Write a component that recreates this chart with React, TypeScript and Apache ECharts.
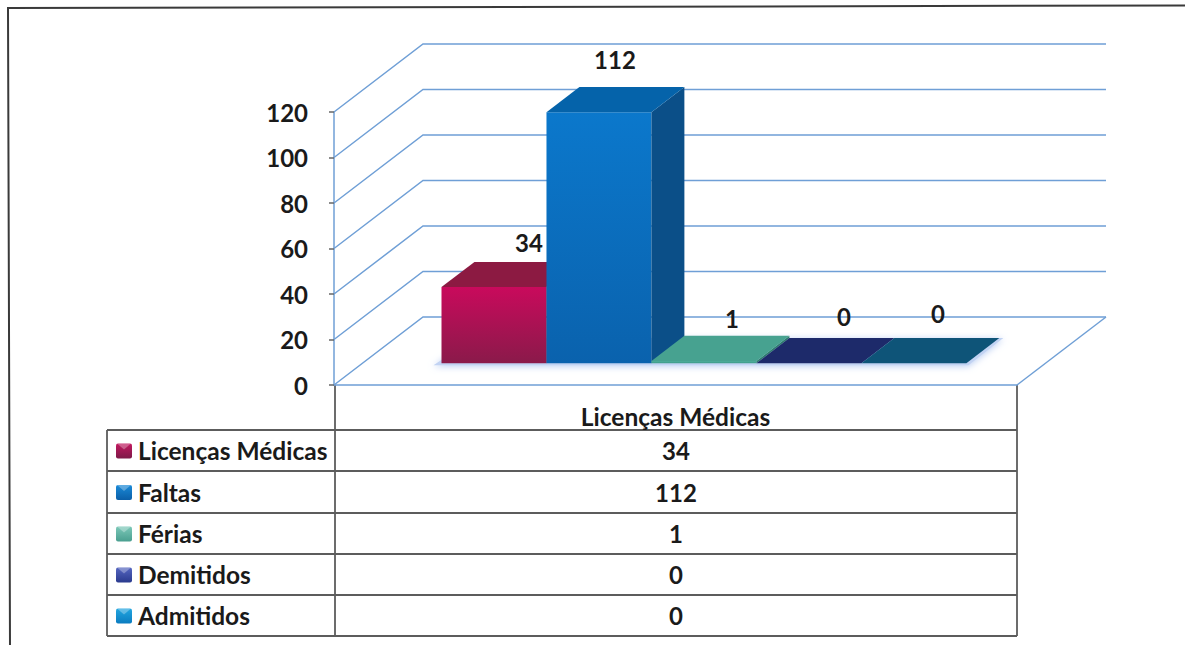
import React, { useEffect, useRef } from "react";
import * as echarts from "echarts";

const categories = ["Licenças Médicas"];
const seriesNames = ["Licenças Médicas", "Faltas", "Férias", "Demitidos", "Admitidos"];
const seriesValues = [34, 112, 1, 0, 0];
const yTicks = [0, 20, 40, 60, 80, 100, 120];

// styling (per series): front top, front bottom, side, top, legend colours
const frontTop = ["#c90a5c", "#0b78cc", "#4fae9b", "#26357e", "#0e6a92"];
const frontBottom = ["#8a1a4a", "#0a62ad", "#3d9a88", "#1c2a6b", "#0d5578"];
const sideFace = ["#6f1438", "#0b4f88", "#2f7d6e", "#151f52", "#0a4460"];
const topFace = ["#8c1a42", "#0563aa", "#47a290", "#1d2a6a", "#0e5478"];
const legendTop = ["#c2185f", "#1a8ad8", "#7cc8b8", "#5566c0", "#22a6e0"];
const legendBottom = ["#7d1a48", "#0b5fa8", "#4a9f90", "#2a3a8e", "#0b7cc0"];
const labelNudgeX = [35, 16, 28, 35, 24];
const labelNudgeY = [-45, -53, -42, -47, -50];

const FONT = "Lato, sans-serif";
const BLUE = "#6f9fd6";
const GRID_LEFT = 334;
const GRID_TOP = 112;
const GRID_W = 683;
const GRID_H = 273;
const DEPTH_X = 89;
const DEPTH_Y = 68;
const BAR_START = 0.1157; // band fraction
const BAR_WIDTH = 0.1537; // band fraction
const BAR_BASE = 0.32; // depth fraction of front face
const BAR_DEPTH = 0.37; // depth fraction of bar
const HEIGHT_SCALE = 0.985;

const TABLE_X0 = 107;
const TABLE_X1 = 335;
const TABLE_X2 = 1017;
const ROW_Y = [430, 471, 513, 554, 595, 636];
const LINE = "#5c5c5c";

function barItem(index: number) {
  return (params: any, api: any) => {
    const v = api.value(1);
    const [cx, y0] = api.coord([0, 0]);
    const [, yv] = api.coord([0, v]);
    const band = api.size([1, 0])[0];
    const left = cx - band / 2 + band * (BAR_START + BAR_WIDTH * index);
    const w = band * BAR_WIDTH;
    const bx = left + DEPTH_X * BAR_BASE;
    const by = y0 - DEPTH_Y * BAR_BASE;
    const h = (y0 - yv) * HEIGHT_SCALE;
    const dx = DEPTH_X * BAR_DEPTH;
    const dy = DEPTH_Y * BAR_DEPTH;
    const top = by - h;
    const children: any[] = [];
    if (h > 0) {
      children.push({
        type: "rect",
        shape: { x: bx, y: top, width: w, height: h },
        style: {
          fill: new echarts.graphic.LinearGradient(0, 0, 0, 1, [
            { offset: 0, color: frontTop[index] },
            { offset: 1, color: frontBottom[index] },
          ]),
        },
      });
      children.push({
        type: "polygon",
        shape: { points: [[bx + w, top], [bx + w + dx, top - dy], [bx + w + dx, by - dy], [bx + w, by]] },
        style: { fill: sideFace[index] },
      });
    }
    children.push({
      type: "polygon",
      shape: { points: [[bx, top], [bx + dx, top - dy], [bx + w + dx, top - dy], [bx + w, top]] },
      style: { fill: topFace[index] },
    });
    children.push({
      type: "text",
      z2: 10,
      style: {
        x: bx + w / 2 + labelNudgeX[index],
        y: top + labelNudgeY[index],
        text: String(seriesValues[index]),
        align: "center",
        verticalAlign: "middle",
        fontFamily: FONT,
        fontWeight: "bold",
        fontSize: 24,
        fill: "#1a1a1a",
      },
    });
    return { type: "group", children };
  };
}

function gridItem(params: any, api: any) {
  const [, y] = api.coord([0, api.value(0)]);
  const isZero = api.value(0) === 0;
  const x0 = GRID_LEFT;
  const x1 = GRID_LEFT + GRID_W;
  const style = { stroke: BLUE, lineWidth: 1.5, fill: "none" };
  const children: any[] = [
    {
      type: "polyline",
      shape: { points: [[x0, y], [x0 + DEPTH_X, y - DEPTH_Y], [x1 + DEPTH_X, y - DEPTH_Y]] },
      style,
    },
  ];
  if (isZero) {
    children.push({
      type: "polyline",
      shape: { points: [[x1, y], [x1 + DEPTH_X, y - DEPTH_Y]] },
      style,
    });
  }
  return { type: "group", children };
}

function floorGlow(params: any, api: any) {
  const [cx, y0] = api.coord([0, 0]);
  const band = api.size([1, 0])[0];
  const left = cx - band / 2 + band * BAR_START + DEPTH_X * BAR_BASE;
  const w = band * BAR_WIDTH * seriesValues.length;
  const by = y0 - DEPTH_Y * BAR_BASE;
  const dx = DEPTH_X * BAR_DEPTH;
  const dy = DEPTH_Y * BAR_DEPTH;
  return {
    type: "polygon",
    shape: { points: [[left - 8, by + 2], [left + dx, by - dy], [left + w + dx + 4, by - dy], [left + w + 2, by + 2]] },
    style: { fill: "#c2d3f3", shadowBlur: 7, shadowColor: "#b8cdf3", shadowOffsetX: 0, shadowOffsetY: 1 },
  };
}

function tableGraphics() {
  const els: any[] = [];
  const line = (x1: number, y1: number, x2: number, y2: number) =>
    els.push({ type: "line", shape: { x1, y1, x2, y2 }, style: { stroke: LINE, lineWidth: 1.8 } });
  line(TABLE_X1, GRID_TOP + GRID_H, TABLE_X1, ROW_Y[5]);
  line(TABLE_X2, GRID_TOP + GRID_H, TABLE_X2, ROW_Y[5]);
  line(TABLE_X0, ROW_Y[0], TABLE_X0, ROW_Y[5]);
  ROW_Y.forEach((y) => line(TABLE_X0, y, TABLE_X2, y));
  seriesNames.forEach((name, i) => {
    const cy = (ROW_Y[i] + ROW_Y[i + 1]) / 2;
    els.push({
      type: "rect",
      shape: { x: 116, y: cy - 7, width: 16, height: 15, r: 2 },
      style: {
        fill: new echarts.graphic.LinearGradient(0, 0, 0, 1, [
          { offset: 0, color: legendTop[i] },
          { offset: 1, color: legendBottom[i] },
        ]),
      },
    });
    els.push({
      type: "polygon",
      shape: { points: [[117, cy - 7], [131, cy - 7], [124, cy - 1]] },
      style: { fill: "rgba(255,255,255,0.3)" },
    });
    els.push({
      type: "text",
      style: {
        x: 138,
        y: cy,
        text: name,
        align: "left",
        verticalAlign: "middle",
        fontFamily: FONT,
        fontWeight: "bold",
        fontSize: 24.5,
        fill: "#1a1a1a",
      },
    });
    els.push({
      type: "text",
      style: {
        x: (TABLE_X1 + TABLE_X2) / 2,
        y: cy,
        text: String(seriesValues[i]),
        align: "center",
        verticalAlign: "middle",
        fontFamily: FONT,
        fontWeight: "bold",
        fontSize: 24,
        fill: "#1a1a1a",
      },
    });
  });
  // outer frame: only top and left edges are inside the picture
  els.push({
    type: "polyline",
    shape: { points: [[10, 645], [8, 8], [1185, 5.5]] },
    style: { stroke: "#3a3a3a", lineWidth: 2, fill: "none" },
  });
  return els;
}

export default function App() {
  const ref = useRef<HTMLDivElement>(null);
  useEffect(() => {
    const chart = echarts.init(ref.current!, undefined, { renderer: "svg" });
    chart.setOption({
      animation: false,
      backgroundColor: "#ffffff",
      grid: { left: GRID_LEFT, top: GRID_TOP, width: GRID_W, height: GRID_H },
      xAxis: {
        type: "category",
        data: categories,
        axisLine: { show: true, lineStyle: { color: BLUE, width: 1.5 } },
        axisTick: { show: false },
        axisLabel: {
          margin: 19,
          fontFamily: FONT,
          fontWeight: "bold",
          fontSize: 24.5,
          color: "#1a1a1a",
        },
      },
      yAxis: {
        type: "value",
        min: 0,
        max: 120,
        interval: 20,
        axisLine: { show: true, lineStyle: { color: BLUE, width: 1.5 } },
        axisTick: { show: true, length: 5, lineStyle: { color: "#666666", width: 1.5 } },
        axisLabel: {
          margin: 26,
          fontFamily: FONT,
          fontWeight: "bold",
          fontSize: 24,
          color: "#1a1a1a",
        },
        splitLine: { show: false },
      },
      graphic: tableGraphics(),
      series: [
        {
          type: "custom",
          name: "grade",
          silent: true,
          z: 1,
          clip: false,
          data: yTicks.map((t) => [t]),
          encode: { y: 0 },
          renderItem: gridItem,
        },
        {
          type: "custom",
          name: "base",
          silent: true,
          z: 2,
          clip: false,
          data: [[0, 0]],
          encode: { x: 0, y: 1 },
          renderItem: floorGlow,
        },
        ...seriesNames.map((name, i) => ({
          type: "custom",
          name,
          z: 3 + i,
          clip: false,
          data: [[0, seriesValues[i]]],
          encode: { x: 0, y: 1 },
          renderItem: barItem(i),
        })),
      ],
    });
    return () => chart.dispose();
  }, []);
  return (
    <div
      ref={ref}
      style={{ position: "fixed", left: 0, top: 0, width: 1185, height: 645 }}
    />
  );
}
